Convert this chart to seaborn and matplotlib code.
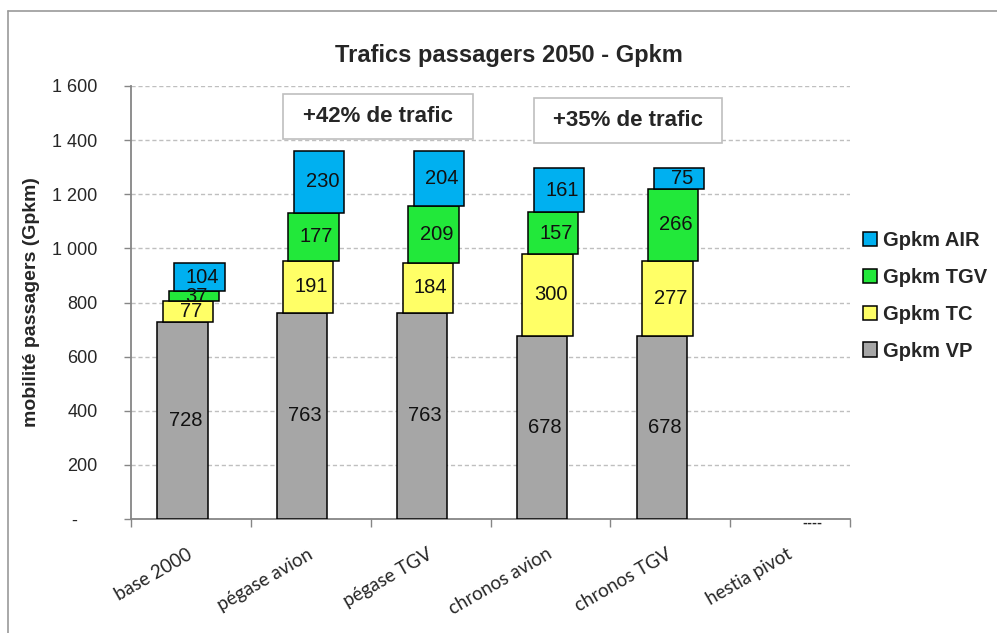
import matplotlib
matplotlib.use("Agg")
import matplotlib.pyplot as plt
from matplotlib.patches import Patch, Rectangle
from matplotlib.lines import Line2D
from matplotlib.ticker import FixedLocator, FuncFormatter
from matplotlib.transforms import ScaledTranslation
import numpy as np
import pandas as pd
import seaborn as sns

# ---------------- data ----------------
categories = ["base 2000", "pégase avion", "pégase TGV", "chronos avion", "chronos TGV", "hestia pivot"]
gpkm_vp = [728, 763, 763, 678, 678, np.nan]
gpkm_tc = [77, 191, 184, 300, 277, np.nan]
gpkm_tgv = [37, 177, 209, 157, 266, np.nan]
gpkm_air = [104, 230, 204, 161, 75, np.nan]
series_names = ["Gpkm VP", "Gpkm TC", "Gpkm TGV", "Gpkm AIR"]
series_values = [gpkm_vp, gpkm_tc, gpkm_tgv, gpkm_air]
series_colors = ["#A6A6A6", "#FFFF66", "#22E83A", "#00B0F0"]
y_ticks = [0, 200, 400, 600, 800, 1000, 1200, 1400, 1600]
annotations = ["+42% de trafic", "+35% de trafic"]
title = "Trafics passagers 2050 - Gpkm"
y_label = "mobilité passagers (Gpkm)"

NARROW = ["Liberation Sans Narrow", "Liberation Sans", "DejaVu Sans"]
REG = ["Liberation Sans", "DejaVu Sans"]

sns.set_style("white")
plt.rcParams["font.family"] = REG

fig = plt.figure(figsize=(9.97, 6.33), dpi=100)
ax = fig.add_axes([131 / 997, 1 - 519 / 633, (850 - 131) / 997, (519 - 86) / 633])

bottom = np.zeros(len(categories))
offsets = [-0.071, -0.024, 0.024, 0.071]
width = 0.42
for i, (name, vals, col) in enumerate(zip(series_names, series_values, series_colors)):
    vals = np.array(vals, dtype=float)
    heights = np.nan_to_num(vals)
    sns.barplot(x=categories, y=heights, bottom=bottom, color=col, width=width,
                edgecolor="black", linewidth=1.1, saturation=1, ax=ax, zorder=3,
                order=categories)
    cont = ax.containers[-1]
    for p, v in zip(cont.patches, vals):
        p.set_x(p.get_x() + offsets[i])
        if np.isnan(v):
            p.set_visible(False)
        else:
            ax.text(p.get_x() + p.get_width() / 2 + 0.025, p.get_y() + p.get_height() / 2,
                    f"{int(v)}", ha="center", va="center", fontsize=14.5,
                    family=REG, color="#111111", zorder=5)
    bottom = bottom + heights

# empty category marker (zero-value labels)
ax.text(5 + 0.19, 0, "----", ha="center", va="center", fontsize=10.5, fontweight="bold",
        family=REG, zorder=6,
        transform=ax.transData + ScaledTranslation(0, -3 / 72, fig.dpi_scale_trans))

ax.set_xlim(-0.5, 5.5)
ax.set_ylim(0, 1600)

# y axis
ax.yaxis.set_major_locator(FixedLocator(y_ticks))
ax.yaxis.set_major_formatter(FuncFormatter(
    lambda v, p: "-    " if v == 0 else f"{int(v):,}".replace(",", " ")))
for lab in ax.get_yticklabels():
    lab.set_family(REG)
ax.tick_params(axis="y", which="major", length=5, width=1, color="#868686",
               labelsize=13, pad=19, left=True, direction="out")
ax.grid(axis="y", linestyle=(0, (3, 2)), color="#BFBFBF", linewidth=1, zorder=0)
ax.set_axisbelow(True)

# x axis
ax.set_xticks(range(len(categories)))
ax.set_xticklabels(categories, rotation=30, ha="right", va="top",
                   rotation_mode="anchor", fontsize=13.5, family=["Lato", "DejaVu Sans"])
ax.set_xticks(np.arange(-0.5, 6.0, 1.0), minor=True)
ax.tick_params(axis="x", which="major", length=0, pad=19)
ax.tick_params(axis="x", which="minor", length=6, width=1, color="#868686",
               bottom=True, direction="out")
ax.set_xlabel("")
shift = ScaledTranslation(-4 / 100, 0, fig.dpi_scale_trans)
for lab in ax.get_xticklabels():
    lab.set_transform(lab.get_transform() + shift)

for s in ["top", "right"]:
    ax.spines[s].set_visible(False)
for s in ["left", "bottom"]:
    ax.spines[s].set_color("#868686")
    ax.spines[s].set_linewidth(1.3)

ax.set_ylabel(y_label, fontsize=14, fontweight="bold", family=NARROW)
ax.yaxis.set_label_coords(-0.127, 0.5)

# annotation boxes
boxes = [(0.772, 2.354, 1404, 1570), (2.864, 4.43, 1389, 1556)]
for (x0, x1, y0, y1), txt in zip(boxes, annotations):
    ax.add_patch(Rectangle((x0, y0), x1 - x0, y1 - y0, facecolor="white",
                           edgecolor="#BFBFBF", linewidth=1.2, zorder=4))
    ax.text((x0 + x1) / 2, (y0 + y1) / 2, txt, ha="center", va="center",
            fontsize=16, fontweight="bold", family=NARROW, zorder=5)

# title
fig.text(509 / 997, 0.912, title, ha="center", va="center", fontsize=17,
         fontweight="bold", family=NARROW)

# legend
handles = [Patch(facecolor=c, edgecolor="black", linewidth=1.1)
           for c in series_colors[::-1]]
fig.legend(handles, series_names[::-1], loc="center left",
           bbox_to_anchor=(853 / 997, 1 - 296 / 633), frameon=False,
           prop={"family": NARROW, "weight": "bold", "size": 14.5},
           handlelength=0.7, handleheight=0.7, handletextpad=0.3,
           labelspacing=0.88, borderpad=0)

# outer border (left & top visible)
fig.add_artist(Line2D([8 / 997, 8 / 997], [0, 1 - 11 / 633], transform=fig.transFigure,
                      color="#9A9A9A", linewidth=1.2))
fig.add_artist(Line2D([8 / 997, 1], [1 - 11 / 633, 1 - 11 / 633], transform=fig.transFigure,
                      color="#9A9A9A", linewidth=1.2))

fig.savefig("out.png", dpi=100)
